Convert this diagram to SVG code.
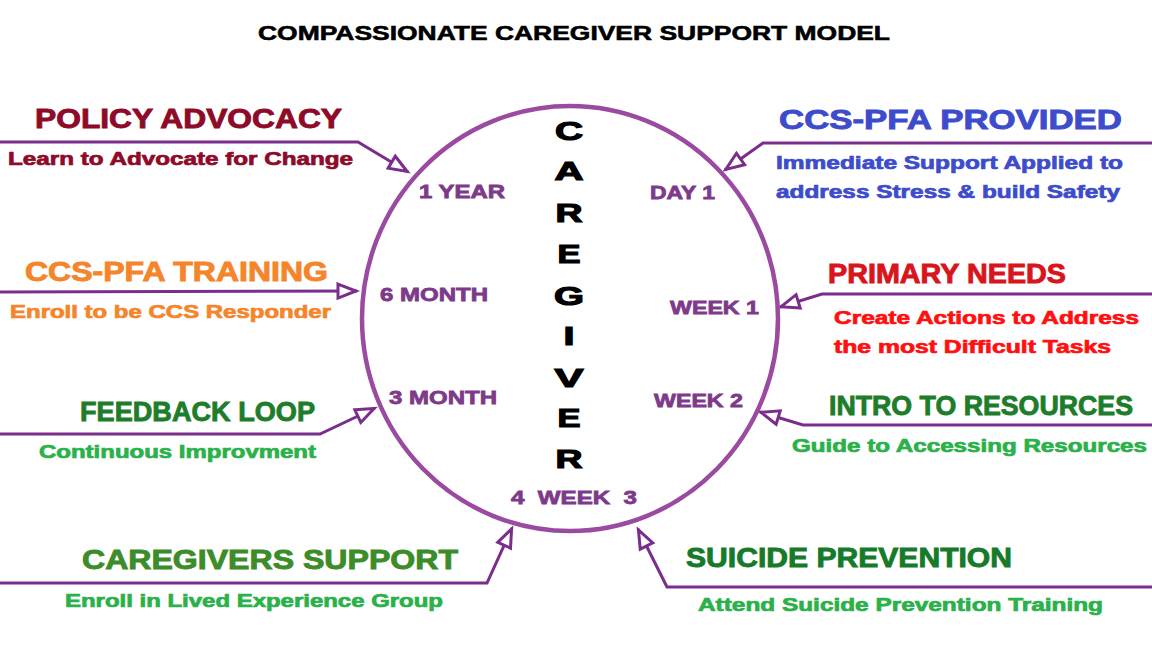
<svg xmlns="http://www.w3.org/2000/svg" width="1152" height="648" viewBox="0 0 1152 648">
<style>
text{font-family:"Liberation Sans",Arial,sans-serif;font-weight:bold}
.title{font-size:21px;fill:#000;stroke:#000;stroke-width:0.6px}
.h{font-size:27px;stroke-width:0.9px}
.s{font-size:18px;stroke-width:0.7px}
.in{font-size:19px;fill:#7d3a8a;stroke:#7d3a8a;stroke-width:0.8px}
.cg{font-size:26px;fill:#000;stroke:#000;stroke-width:1.2px}
.conn{fill:none;stroke:#7b2d8b;stroke-width:3;stroke-linejoin:miter}
</style>
<defs>
<marker id="tri" viewBox="0 0 22 18" refX="21" refY="9" markerWidth="22" markerHeight="18" markerUnits="userSpaceOnUse" orient="auto" overflow="visible">
<path d="M2,2 L20,9 L2,16 Z" fill="#fff" stroke="#7b2d8b" stroke-width="3" stroke-linejoin="miter"/>
</marker>
</defs>
<rect width="1152" height="648" fill="#fff"/>
<text class="title" x="258" y="40" textLength="632" lengthAdjust="spacingAndGlyphs">COMPASSIONATE CAREGIVER SUPPORT MODEL</text>

<g id="connectors">
<path class="conn" d="M0,142 L358,142 L408,172" marker-end="url(#tri)"/>
<path class="conn" d="M1152,143 L763,143 L725,170" marker-end="url(#tri)"/>
<path class="conn" d="M0,292 L357,291" marker-end="url(#tri)"/>
<path class="conn" d="M1152,294 L822,294 L780,307" marker-end="url(#tri)"/>
<path class="conn" d="M0,434 L320,434 L375,408" marker-end="url(#tri)"/>
<path class="conn" d="M1152,425 L803,425 L760,412" marker-end="url(#tri)"/>
<path class="conn" d="M0,583 L487,583 L512,528" marker-end="url(#tri)"/>
<path class="conn" d="M1152,587 L667,587 L638,529" marker-end="url(#tri)"/>
</g>

<g id="caregiver">
<ellipse cx="570" cy="318.5" rx="208" ry="212.5" fill="none" stroke="#9a4aa0" stroke-width="4.5"/>
<text class="cg" x="555" y="140" textLength="28" lengthAdjust="spacingAndGlyphs">C</text>
<text class="cg" x="554.5" y="180" textLength="29" lengthAdjust="spacingAndGlyphs">A</text>
<text class="cg" x="555.5" y="222" textLength="27" lengthAdjust="spacingAndGlyphs">R</text>
<text class="cg" x="557.5" y="263" textLength="23" lengthAdjust="spacingAndGlyphs">E</text>
<text class="cg" x="554" y="305" textLength="30" lengthAdjust="spacingAndGlyphs">G</text>
<text class="cg" x="563.5" y="345" textLength="11" lengthAdjust="spacingAndGlyphs">I</text>
<text class="cg" x="554.5" y="387" textLength="29" lengthAdjust="spacingAndGlyphs">V</text>
<text class="cg" x="557.5" y="427" textLength="23" lengthAdjust="spacingAndGlyphs">E</text>
<text class="cg" x="555.5" y="468" textLength="27" lengthAdjust="spacingAndGlyphs">R</text>
<text class="in" x="419" y="198" textLength="86" lengthAdjust="spacingAndGlyphs">1 YEAR</text>
<text class="in" x="650" y="199" textLength="65" lengthAdjust="spacingAndGlyphs">DAY 1</text>
<text class="in" x="380" y="301" textLength="108" lengthAdjust="spacingAndGlyphs">6 MONTH</text>
<text class="in" x="670" y="314" textLength="89" lengthAdjust="spacingAndGlyphs">WEEK 1</text>
<text class="in" x="389" y="404" textLength="108" lengthAdjust="spacingAndGlyphs">3 MONTH</text>
<text class="in" x="654" y="407" textLength="89" lengthAdjust="spacingAndGlyphs">WEEK 2</text>
<text class="in" x="511" y="504" textLength="126" lengthAdjust="spacingAndGlyphs" style="white-space:pre">4  WEEK  3</text>
</g>

<g id="policy-advocacy">
<text class="h" x="35" y="128" fill="#8e0a28" stroke="#8e0a28" textLength="307" lengthAdjust="spacingAndGlyphs">POLICY ADVOCACY</text>
<text class="s" x="8" y="165" fill="#8e0a28" stroke="#8e0a28" textLength="345" lengthAdjust="spacingAndGlyphs">Learn to Advocate for Change</text>
</g>
<g id="ccs-pfa-provided">
<text class="h" x="779" y="129" fill="#3d4ccc" stroke="#3d4ccc" textLength="343" lengthAdjust="spacingAndGlyphs">CCS-PFA PROVIDED</text>
<text class="s" x="776" y="169" fill="#3d4ccc" stroke="#3d4ccc" textLength="347" lengthAdjust="spacingAndGlyphs">Immediate Support Applied to</text>
<text class="s" x="776" y="198" fill="#3d4ccc" stroke="#3d4ccc" textLength="344" lengthAdjust="spacingAndGlyphs">address Stress &amp; build Safety</text>
</g>
<g id="ccs-pfa-training">
<text class="h" x="25" y="281" fill="#f5852a" stroke="#f5852a" textLength="303" lengthAdjust="spacingAndGlyphs">CCS-PFA TRAINING</text>
<text class="s" x="10" y="318" fill="#f5852a" stroke="#f5852a" textLength="321" lengthAdjust="spacingAndGlyphs">Enroll to be CCS Responder</text>
</g>
<g id="primary-needs">
<text class="h" x="828" y="283" fill="#d8141c" stroke="#d8141c" textLength="238" lengthAdjust="spacingAndGlyphs">PRIMARY NEEDS</text>
<text class="s" x="834" y="324" fill="#ff1010" stroke="#ff1010" textLength="305" lengthAdjust="spacingAndGlyphs">Create Actions to Address</text>
<text class="s" x="834" y="353" fill="#ff1010" stroke="#ff1010" textLength="277" lengthAdjust="spacingAndGlyphs">the most Difficult Tasks</text>
</g>
<g id="feedback-loop">
<text class="h" x="80" y="421" fill="#1e7d2a" stroke="#1e7d2a" textLength="235" lengthAdjust="spacingAndGlyphs">FEEDBACK LOOP</text>
<text class="s" x="39" y="458" fill="#2ab14a" stroke="#2ab14a" textLength="277" lengthAdjust="spacingAndGlyphs">Continuous Improvment</text>
</g>
<g id="intro-to-resources">
<text class="h" x="829" y="415" fill="#1e7d2a" stroke="#1e7d2a" textLength="304" lengthAdjust="spacingAndGlyphs">INTRO TO RESOURCES</text>
<text class="s" x="792" y="452" fill="#2ab14a" stroke="#2ab14a" textLength="355" lengthAdjust="spacingAndGlyphs">Guide to Accessing Resources</text>
</g>
<g id="caregivers-support">
<text class="h" x="82" y="569" fill="#3d8c2a" stroke="#3d8c2a" textLength="376" lengthAdjust="spacingAndGlyphs">CAREGIVERS SUPPORT</text>
<text class="s" x="65" y="607" fill="#2ab14a" stroke="#2ab14a" textLength="378" lengthAdjust="spacingAndGlyphs">Enroll in Lived Experience Group</text>
</g>
<g id="suicide-prevention">
<text class="h" x="686" y="567" fill="#157a2a" stroke="#157a2a" textLength="326" lengthAdjust="spacingAndGlyphs">SUICIDE PREVENTION</text>
<text class="s" x="698" y="611" fill="#2ab14a" stroke="#2ab14a" textLength="405" lengthAdjust="spacingAndGlyphs">Attend Suicide Prevention Training</text>
</g>
</svg>
